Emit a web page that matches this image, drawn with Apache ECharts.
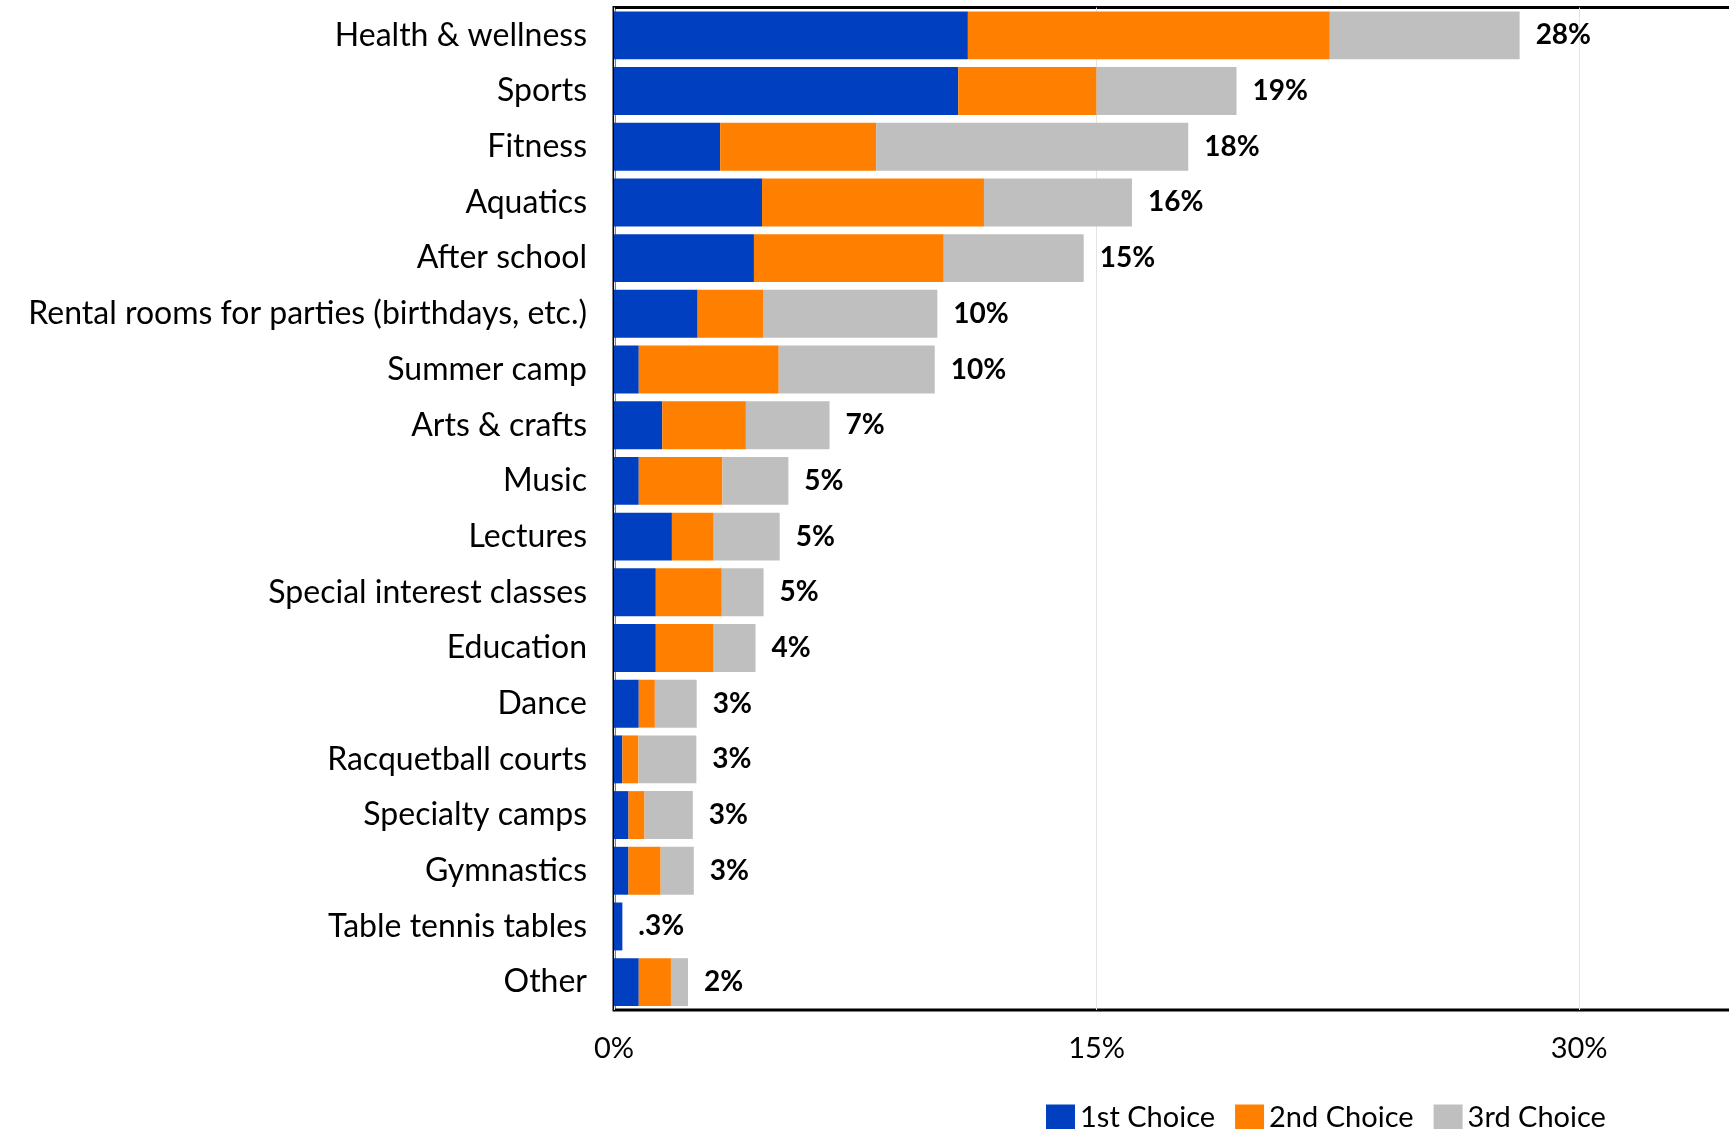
<!DOCTYPE html>
<html>
<head>
<meta charset="utf-8">
<script src="https://cdn.jsdelivr.net/npm/echarts@6/dist/echarts.min.js"></script>
<style>
html,body{margin:0;padding:0;background:#fff;overflow:hidden;}
#chart{width:1800px;height:1129px;}
</style>
</head>
<body>
<div id="chart"></div>
<script>
const categories = [
  'Health & wellness', 'Sports', 'Fitness', 'Aquatics', 'After school',
  'Rental rooms for parties (birthdays, etc.)', 'Summer camp', 'Arts & crafts',
  'Music', 'Lectures', 'Special interest classes', 'Education', 'Dance',
  'Racquetball courts', 'Specialty camps', 'Gymnastics', 'Table tennis tables', 'Other'
];
const firstChoice  = [11.0, 10.7, 3.3, 4.6, 4.35, 2.6, 0.77, 1.5, 0.77, 1.8, 1.3, 1.3, 0.77, 0.26, 0.45, 0.45, 0.26, 0.77];
const secondChoice = [11.25, 4.3, 4.85, 6.9, 5.9, 2.05, 4.35, 2.6, 2.6, 1.3, 2.05, 1.8, 0.5, 0.5, 0.5, 1.0, 0, 1.0];
const thirdChoice  = [5.9, 4.35, 9.7, 4.6, 4.35, 5.4, 4.85, 2.6, 2.05, 2.05, 1.3, 1.3, 1.3, 1.8, 1.5, 1.03, 0, 0.53];
const totalLabels  = ['28%', '19%', '18%', '16%', '15%', '10%', '10%', '7%', '5%', '5%', '5%', '4%', '3%', '3%', '3%', '3%', '.3%', '2%'];
const seriesNames  = ['1st Choice', '2nd Choice', '3rd Choice'];
const xTicks = [0, 15, 30];

const FONT = 'Lato';
const chart = echarts.init(document.getElementById('chart'), null, {renderer: 'canvas'});

function barSeries(name, data, color, withLabel) {
  const s = {
    name: name,
    type: 'bar',
    stack: 'total',
    data: data,
    barCategoryGap: '14%',
    itemStyle: {color: color},
    emphasis: {disabled: true},
    animation: false
  };
  if (withLabel) {
    s.label = {
      show: true,
      position: 'right',
      distance: 16,
      color: '#000',
      fontFamily: FONT,
      fontWeight: 'bold',
      fontSize: 28,
      padding: [4, 0, 0, 0],
      formatter: p => totalLabels[p.dataIndex]
    };
  }
  return s;
}

chart.setOption({
  animation: false,
  backgroundColor: '#fff',
  textStyle: {fontFamily: FONT},
  grid: {
    left: 614, top: 7.5, width: 1126, bottom: 119,
    show: true, borderColor: '#000', borderWidth: 3,
    containLabel: false,
    outerBoundsMode: 'none'
  },
  legend: {
    data: seriesNames,
    left: 1041, top: 1098,
    icon: 'rect',
    itemWidth: 29, itemHeight: 26, itemGap: 20,
    textStyle: {fontFamily: FONT, fontSize: 29, color: '#000'}
  },
  xAxis: {
    type: 'value',
    min: 0, max: 35, interval: 15,
    axisLine: {show: false},
    axisTick: {show: false},
    splitLine: {show: true, lineStyle: {color: '#e4e4e4', width: 1}},
    axisLabel: {
      margin: 24,
      fontFamily: FONT, fontSize: 29, color: '#000',
      formatter: v => xTicks.indexOf(v) >= 0 ? v + '%' : ''
    }
  },
  yAxis: {
    type: 'category',
    data: categories,
    inverse: true,
    axisLine: {show: false},
    axisTick: {show: false},
    axisLabel: {margin: 27, fontFamily: FONT, fontSize: 32, color: '#000', padding: [8, 0, 0, 0]}
  },
  series: [
    barSeries(seriesNames[0], firstChoice, '#0040C0', false),
    barSeries(seriesNames[1], secondChoice, '#FF8000', false),
    barSeries(seriesNames[2], thirdChoice, '#BFBFBF', true)
  ]
});
</script>
</body>
</html>
